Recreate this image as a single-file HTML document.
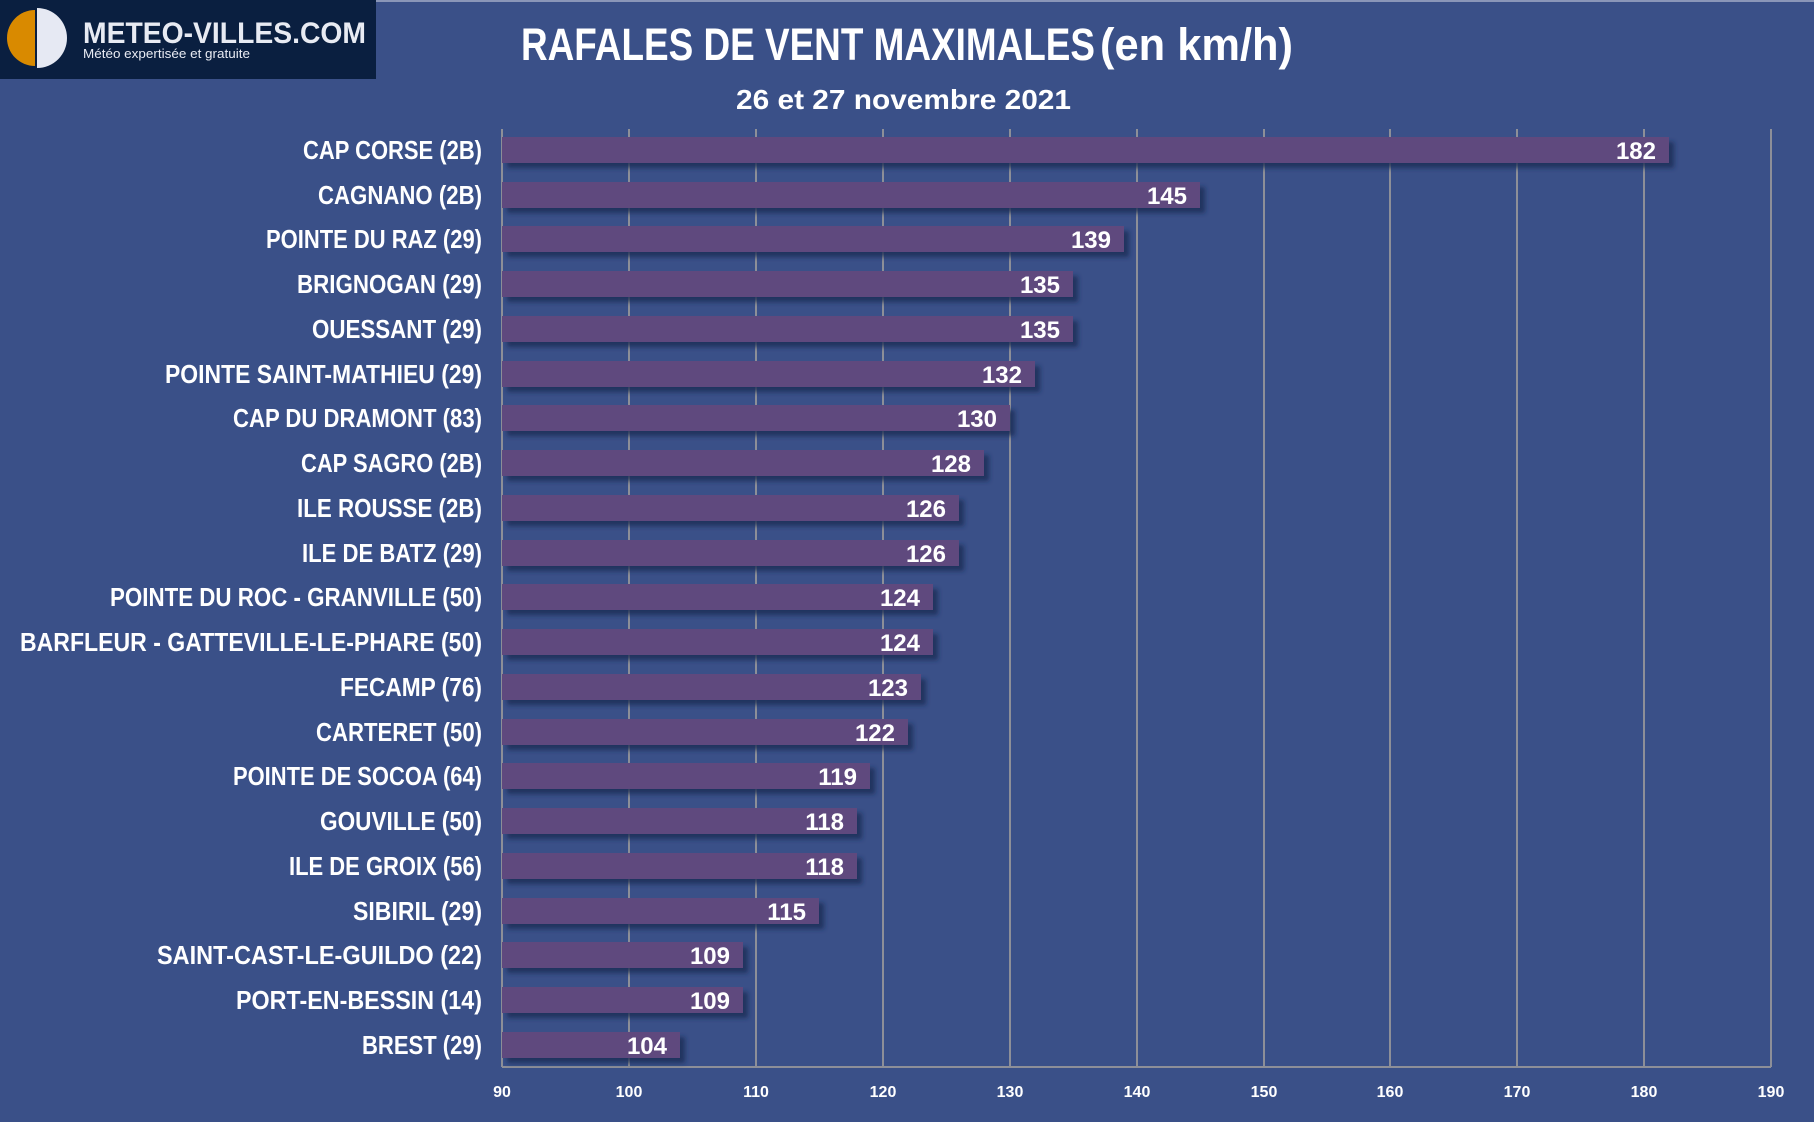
<!DOCTYPE html>
<html><head><meta charset="utf-8"><style>
html,body{margin:0;padding:0;background:#3a5088;}
svg{display:block}
</style></head><body>
<svg width="1814" height="1122" viewBox="0 0 1814 1122" xmlns="http://www.w3.org/2000/svg">
<defs>
<filter id="sh" x="-5%" y="-50%" width="110%" height="220%">
<feDropShadow dx="5" dy="5" stdDeviation="2.5" flood-color="#1f2b55" flood-opacity="0.8"/>
</filter>
</defs>
<rect width="1814" height="1122" fill="#3a5088"/>
<rect x="376" y="0" width="1438" height="2" fill="#8a96b8"/>
<!-- logo -->
<rect x="0" y="0" width="376" height="79" fill="#0a1f40"/>
<path d="M35 10 A28 28 0 0 0 35 66 Z" fill="#d98a00"/>
<path d="M37 8 A30 30 0 0 1 37 68 Z" fill="#e6e9f3"/>
<text x="83" y="43" font-family="Liberation Sans, sans-serif" font-weight="bold" font-size="30" fill="#e8ebf3" textLength="283" lengthAdjust="spacingAndGlyphs">METEO-VILLES.COM</text>
<text x="83" y="58" font-family="Liberation Sans, sans-serif" font-size="12.5" fill="#e8ebf3" textLength="167" lengthAdjust="spacingAndGlyphs">Météo expertisée et gratuite</text>
<!-- titles -->
<text x="521" y="60" font-family="Liberation Sans Narrow, Liberation Sans, sans-serif" font-weight="bold" font-size="45" fill="#fff" textLength="574" lengthAdjust="spacingAndGlyphs">RAFALES DE VENT MAXIMALES</text>
<text x="1100" y="60" font-family="Liberation Sans Narrow, Liberation Sans, sans-serif" font-weight="bold" font-size="45" fill="#fff" textLength="193" lengthAdjust="spacingAndGlyphs">(en km/h)</text>
<text x="736" y="109" font-family="Liberation Sans, sans-serif" font-weight="bold" font-size="28" fill="#fff" textLength="335" lengthAdjust="spacingAndGlyphs">26 et 27 novembre 2021</text>
<!-- grid -->
<g stroke="#8d8f98" stroke-width="2">
<line x1="502" y1="129" x2="502" y2="1067"/>
<line x1="629" y1="129" x2="629" y2="1067"/>
<line x1="756" y1="129" x2="756" y2="1067"/>
<line x1="883" y1="129" x2="883" y2="1067"/>
<line x1="1010" y1="129" x2="1010" y2="1067"/>
<line x1="1137" y1="129" x2="1137" y2="1067"/>
<line x1="1264" y1="129" x2="1264" y2="1067"/>
<line x1="1390" y1="129" x2="1390" y2="1067"/>
<line x1="1517" y1="129" x2="1517" y2="1067"/>
<line x1="1644" y1="129" x2="1644" y2="1067"/>
<line x1="1771" y1="129" x2="1771" y2="1067"/>
<line x1="502" y1="1067" x2="1771" y2="1067"/>
</g>
<g font-family="Liberation Sans, sans-serif" font-weight="bold" font-size="16" fill="#fff" text-anchor="middle">
<text x="502" y="1097">90</text><text x="629" y="1097">100</text><text x="756" y="1097">110</text><text x="883" y="1097">120</text><text x="1010" y="1097">130</text><text x="1137" y="1097">140</text><text x="1264" y="1097">150</text><text x="1390" y="1097">160</text><text x="1517" y="1097">170</text><text x="1644" y="1097">180</text><text x="1771" y="1097">190</text>
</g>
<g transform="translate(0,-4)">
<g filter="url(#sh)" fill="#5e4a7e">
<rect x="502" y="141" width="1167" height="26"/>
<rect x="502" y="186" width="698" height="26"/>
<rect x="502" y="230" width="622" height="26"/>
<rect x="502" y="275" width="571" height="26"/>
<rect x="502" y="320" width="571" height="26"/>
<rect x="502" y="365" width="533" height="26"/>
<rect x="502" y="409" width="508" height="26"/>
<rect x="502" y="454" width="482" height="26"/>
<rect x="502" y="499" width="457" height="26"/>
<rect x="502" y="544" width="457" height="26"/>
<rect x="502" y="588" width="431" height="26"/>
<rect x="502" y="633" width="431" height="26"/>
<rect x="502" y="678" width="419" height="26"/>
<rect x="502" y="723" width="406" height="26"/>
<rect x="502" y="767" width="368" height="26"/>
<rect x="502" y="812" width="355" height="26"/>
<rect x="502" y="857" width="355" height="26"/>
<rect x="502" y="902" width="317" height="26"/>
<rect x="502" y="946" width="241" height="26"/>
<rect x="502" y="991" width="241" height="26"/>
<rect x="502" y="1036" width="178" height="26"/>
</g>
<g font-family="Liberation Sans, sans-serif" font-weight="bold" font-size="24" fill="#fff" text-anchor="end">
<text x="1656" y="163">182</text>
<text x="1187" y="208">145</text>
<text x="1111" y="252">139</text>
<text x="1060" y="297">135</text>
<text x="1060" y="342">135</text>
<text x="1022" y="387">132</text>
<text x="997" y="431">130</text>
<text x="971" y="476">128</text>
<text x="946" y="521">126</text>
<text x="946" y="566">126</text>
<text x="920" y="610">124</text>
<text x="920" y="655">124</text>
<text x="908" y="700">123</text>
<text x="895" y="745">122</text>
<text x="857" y="789">119</text>
<text x="844" y="834">118</text>
<text x="844" y="879">118</text>
<text x="806" y="924">115</text>
<text x="730" y="968">109</text>
<text x="730" y="1013">109</text>
<text x="667" y="1058">104</text>
</g>
<g font-family="Liberation Sans Narrow, Liberation Sans, sans-serif" font-weight="bold" font-size="26" fill="#fff">
<text x="303" y="163" textLength="179" lengthAdjust="spacingAndGlyphs">CAP CORSE (2B)</text>
<text x="318" y="208" textLength="164" lengthAdjust="spacingAndGlyphs">CAGNANO (2B)</text>
<text x="266" y="252" textLength="216" lengthAdjust="spacingAndGlyphs">POINTE DU RAZ (29)</text>
<text x="297" y="297" textLength="185" lengthAdjust="spacingAndGlyphs">BRIGNOGAN (29)</text>
<text x="312" y="342" textLength="170" lengthAdjust="spacingAndGlyphs">OUESSANT (29)</text>
<text x="165" y="387" textLength="317" lengthAdjust="spacingAndGlyphs">POINTE SAINT-MATHIEU (29)</text>
<text x="233" y="431" textLength="249" lengthAdjust="spacingAndGlyphs">CAP DU DRAMONT (83)</text>
<text x="301" y="476" textLength="181" lengthAdjust="spacingAndGlyphs">CAP SAGRO (2B)</text>
<text x="297" y="521" textLength="185" lengthAdjust="spacingAndGlyphs">ILE ROUSSE (2B)</text>
<text x="302" y="566" textLength="180" lengthAdjust="spacingAndGlyphs">ILE DE BATZ (29)</text>
<text x="110" y="610" textLength="372" lengthAdjust="spacingAndGlyphs">POINTE DU ROC - GRANVILLE (50)</text>
<text x="20" y="655" textLength="462" lengthAdjust="spacingAndGlyphs">BARFLEUR - GATTEVILLE-LE-PHARE (50)</text>
<text x="340" y="700" textLength="142" lengthAdjust="spacingAndGlyphs">FECAMP (76)</text>
<text x="316" y="745" textLength="166" lengthAdjust="spacingAndGlyphs">CARTERET (50)</text>
<text x="233" y="789" textLength="249" lengthAdjust="spacingAndGlyphs">POINTE DE SOCOA (64)</text>
<text x="320" y="834" textLength="162" lengthAdjust="spacingAndGlyphs">GOUVILLE (50)</text>
<text x="289" y="879" textLength="193" lengthAdjust="spacingAndGlyphs">ILE DE GROIX (56)</text>
<text x="353" y="924" textLength="129" lengthAdjust="spacingAndGlyphs">SIBIRIL (29)</text>
<text x="157" y="968" textLength="325" lengthAdjust="spacingAndGlyphs">SAINT-CAST-LE-GUILDO (22)</text>
<text x="236" y="1013" textLength="246" lengthAdjust="spacingAndGlyphs">PORT-EN-BESSIN (14)</text>
<text x="362" y="1058" textLength="120" lengthAdjust="spacingAndGlyphs">BREST (29)</text>
</g>
</g>
</svg>
</body></html>
